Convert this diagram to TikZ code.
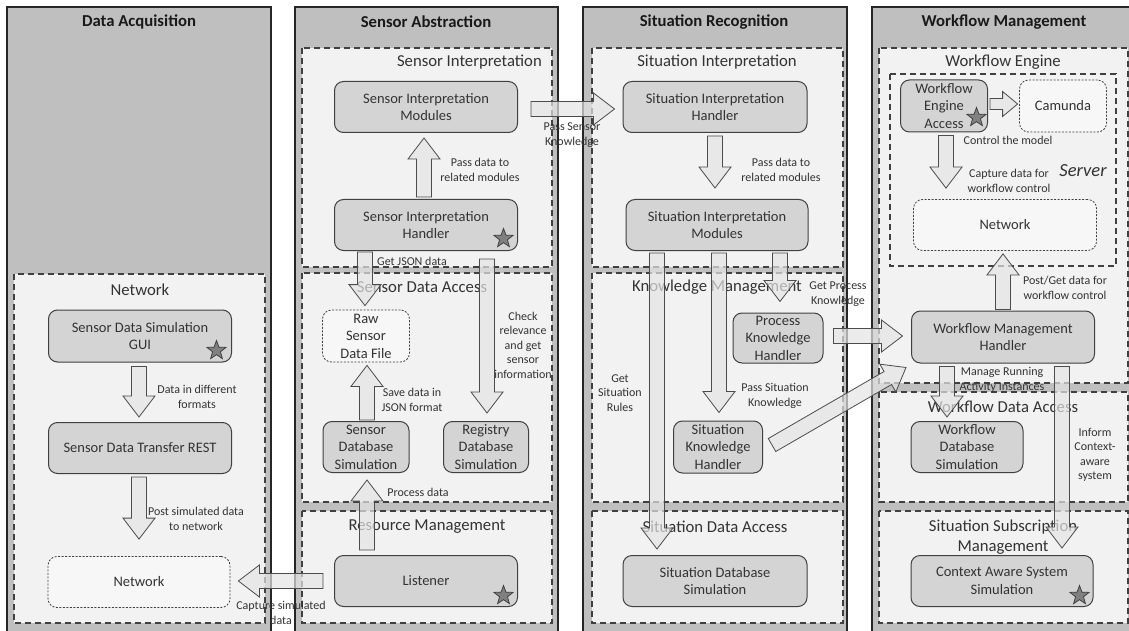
\documentclass[tikz,border=0pt]{standalone}
\usepackage{fontspec}
\setmainfont{Carlito}
\usetikzlibrary{calc,shapes.geometric}

\definecolor{panelgray}{HTML}{BFBFBF}
\definecolor{subfill}{HTML}{F2F2F2}
\definecolor{boxfill}{HTML}{D4D4D4}
\definecolor{dfill}{HTML}{F7F7F7}
\definecolor{arrowfill}{HTML}{E4E4E4}
\definecolor{ink}{HTML}{333333}

% block arrow from #2 (base) to #3 (tip)
\def\bashaft{7.5pt}
\def\bawing{16pt}
\def\bahead{21pt}
\newcommand\blockarrow[3][]{%
  \begin{scope}[#1]
  \coordinate (ba-s) at (#2);
  \coordinate (ba-e) at (#3);
  \coordinate (ba-h) at ($(ba-e)!\bahead!(ba-s)$);
  \filldraw[blockarrow]
    ($(ba-s)!\bashaft!90:(ba-e)$) -- ($(ba-h)!\bashaft!90:(ba-e)$) --
    ($(ba-h)!\bawing!90:(ba-e)$) -- (ba-e) --
    ($(ba-h)!\bawing!-90:(ba-e)$) -- ($(ba-h)!\bashaft!-90:(ba-e)$) --
    ($(ba-s)!\bashaft!-90:(ba-e)$) -- cycle;
  \end{scope}}

\begin{document}
\begin{tikzpicture}[x=1pt,y=-1pt,
  panel/.style={draw=black!85, line width=1.6pt, fill=panelgray},
  subpanel/.style={draw=black!75, line width=1.4pt, dash pattern=on 6pt off 4pt, fill=subfill},
  server/.style={draw=black!75, line width=1.4pt, dash pattern=on 6pt off 4pt},
  box/.style={draw=black!75, line width=1pt, rounded corners=9pt, fill=boxfill, align=center,
    font=\fontsize{14.5}{17.5}\selectfont, text=ink, inner sep=0pt},
  dbox/.style={box, line width=0.8pt, dash pattern=on 2pt off 1.5pt, fill=dfill},
  wide/.style={minimum width=183pt, minimum height=51pt},
  narrow/.style={minimum width=87pt, minimum height=52pt},
  ptitle/.style={font=\bfseries\fontsize{16.7}{19}\selectfont, text=black!90, inner sep=0pt},
  stitle/.style={font=\fontsize{16.7}{20}\selectfont, text=ink, inner sep=0pt, align=center},
  lbl/.style={font=\fontsize{12}{14.5}\selectfont, align=center, text=ink, inner sep=0pt},
  blockarrow/.style={draw=black!70, line width=0.8pt, fill=arrowfill, fill opacity=0.7, line join=miter},
  starmark/.style={star, star points=5, star point ratio=2.4, minimum size=20pt, inner sep=0pt,
    fill=black!50, draw=black!75, line width=0.8pt}]

\useasboundingbox (0,0) rectangle (1129,631);
\clip (0,0) rectangle (1129,631);
\fill[white] (0,0) rectangle (1129,631);

% ---------- four layers ----------
\draw[panel] (7,7) rectangle (271,640);
\draw[panel] (295,7) rectangle (558,640);
\draw[panel] (583,7) rectangle (847,640);
\draw[panel] (872,7) rectangle (1140,640);
\node[ptitle] (tDA) at (139,22) {Data Acquisition};
\node[ptitle] (tSA) at (426,22) {Sensor Abstraction};
\node[ptitle] (tSR) at (714,22) {Situation Recognition};
\node[ptitle] (tWF) at (1004,22) {Workflow Management};

% ---------- components ----------
\draw[subpanel] (14,274) rectangle (265,623);
\node[stitle] (sNet) at (140,290) {Network};

\draw[subpanel] (302,48) rectangle (552,267);
\node[stitle, anchor=east] (sSI) at (542,62) {Sensor Interpretation};
\draw[subpanel] (302,273) rectangle (552,502);
\node[stitle] (sSDA) at (422,287) {Sensor Data Access};
\draw[subpanel] (302,511) rectangle (552,623);
\node[stitle] (sRM) at (427,527) {Resource Management};

\draw[subpanel] (592,48) rectangle (843,267);
\node[stitle] (sSitI) at (717,62) {Situation Interpretation};
\draw[subpanel] (592,273) rectangle (843,502);
\node[stitle] (sKM) at (717,287) {Knowledge Management};
\draw[subpanel] (592,511) rectangle (843,623);
\node[stitle] (sSDAc) at (715,527) {Situation Data Access};

\draw[subpanel] (879,48) rectangle (1128,383);
\node[stitle] (sWE) at (1003,62) {Workflow Engine};
\draw[server] (890,74) rectangle (1116,266);
\node[stitle, font=\itshape\fontsize{18.5}{20}\selectfont] (sSrv) at (1083,171) {Server};
\draw[subpanel] (879,392) rectangle (1128,502);
\node[stitle] (sWDA) at (1003,407) {Workflow Data Access};
\draw[subpanel] (879,511) rectangle (1128,623);
\node[stitle] (sSSM) at (1003,537) {Situation Subscription\\Management};

% ---------- Data Acquisition ----------
\node[box, wide, minimum height=52pt] (gui) at (140,336) {Sensor Data Simulation\\GUI};
\node[box, wide] (rest) at (140,448) {Sensor Data Transfer REST};
\node[dbox, wide, minimum width=182pt] (netDA) at (139,582) {Network};

% ---------- Sensor Abstraction ----------
\node[box, wide] (sim) at (426,107) {Sensor Interpretation\\Modules};
\node[box, wide] (sih) at (426,225) {Sensor Interpretation\\Handler};
\node[dbox, narrow] (raw) at (366,336) {Raw\\Sensor\\Data File};
\node[box, narrow, minimum width=86pt, minimum height=51pt] (sdb) at (366,447) {Sensor\\Database\\Simulation};
\node[box, narrow, minimum width=85pt, minimum height=51pt] (rdb) at (486,447) {Registry\\Database\\Simulation};
\node[box, wide] (lis) at (426,581) {Listener};

% ---------- Situation Recognition ----------
\node[box, wide, minimum width=184pt] (sith) at (715,107) {Situation Interpretation\\Handler};
\node[box, wide, minimum width=182pt] (sitm) at (717,225) {Situation Interpretation\\Modules};
\node[box, narrow, minimum width=90pt, minimum height=50pt] (pkh) at (778,338) {Process\\Knowledge\\Handler};
\node[box, narrow, minimum width=89pt] (skh) at (718,447) {Situation\\Knowledge\\Handler};
\node[box, wide, minimum width=184pt] (sdbs) at (715,581) {Situation Database\\Simulation};

% ---------- Workflow Management ----------
\node[box, narrow] (wea) at (944,106) {Workflow\\Engine\\Access};
\node[dbox, narrow] (cam) at (1063,106) {Camunda};
\node[dbox, wide] (netWF) at (1005,225) {Network};
\node[box, wide, minimum height=52pt] (wmh) at (1003,337) {Workflow Management\\Handler};
\node[box, narrow, minimum width=112pt, minimum height=51pt] (wdb) at (967,447) {Workflow\\Database\\Simulation};
\node[box, wide, minimum width=182pt] (cass) at (1002,581) {Context Aware System\\Simulation};

% ---------- stars ----------
\node[starmark] (starGui) at ($(gui.south east)+(-15.5,-12)$) {};
\node[starmark] (starSih) at ($(sih.south east)+(-14.5,-12.5)$) {};
\node[starmark] (starLis) at ($(lis.south east)+(-14.5,-11.5)$) {};
\node[starmark] (starWea) at ($(wea.south east)+(-11.5,-15)$) {};
\node[starmark] (starCass) at ($(cass.south east)+(-14,-11.5)$) {};

% ---------- block arrows ----------
\blockarrow{$(gui.south)+(-1,4)$}{$(rest.north)+(-1,-5)$}
\blockarrow{$(rest.south)+(-1,3)$}{$(netDA.north)+(0,-17)$}

\blockarrow{$(sih.north)+(-2,-2)$}{$(sim.south)+(-2,5)$}
\blockarrow{$(sih.south)+(-61,1)$}{$(raw.north)+(-1,-4)$}
\blockarrow{$(sih.south)+(61,8)$}{$(rdb.north)+(1,-8)$}
\blockarrow{$(sdb.north)+(1,-1)$}{$(raw.south)+(1,3)$}
\blockarrow{$(lis.north)+(-59,-5)$}{$(sdb.south)+(1,7)$}
\blockarrow{$(lis.west)+(-11,0)$}{$(netDA.east)+(8,-1)$}

\blockarrow{$(sim.east)+(13,2)$}{$(sith.west)+(-8,2)$}
\blockarrow{$(sith.south)+(0,3)$}{$(sitm.north)+(-2,-11)$}
\blockarrow{$(sitm.south)+(-60,2)$}{$(sdbs.north)+(-58,-6)$}
\blockarrow{$(sitm.south)+(2,2)$}{$(skh.north)+(1,-8)$}
\blockarrow{$(sitm.south)+(63,2)$}{$(pkh.north)+(2,-11)$}
\blockarrow{$(pkh.east)+(10,-2)$}{$(wmh.west)+(-8.5,-1)$}
\blockarrow{$(skh.east)+(9,-2)$}{$(wmh.south west)+(-5,4)$}

\begin{scope}
\def\bashaft{5.5pt}\def\bawing{12.5pt}\def\bahead{15pt}
\blockarrow{$(wea.east)+(2,-2)$}{$(cam.west)+(-1.5,-2)$}
\end{scope}
\blockarrow{$(wea.south)+(2,3)$}{$(netWF.north)+(-59,-11)$}
\blockarrow{$(wmh.north)+(0,-1)$}{$(netWF.south)+(-2,3)$}
\blockarrow{$(wmh.south)+(-56,3)$}{$(wdb.north)+(-20,-4)$}
\blockarrow{$(wmh.south)+(59,3)$}{$(cass.north)+(60,-7)$}

% ---------- connector labels ----------
\node[lbl] (lDiff) at (197,397) {Data in different\\formats};
\node[lbl] (lPost) at (196,519) {Post simulated data\\to network};
\node[lbl] (lCap) at (281,613) {Capture simulated\\data};
\node[lbl] (lPassSA) at (480,170) {Pass data to\\related modules};
\node[lbl] (lJson) at (412,261) {Get JSON data};
\node[lbl] (lCheck) at (523,345) {Check\\relevance\\and get\\sensor\\information};
\node[lbl] (lSave) at (412,400) {Save data in\\JSON format};
\node[lbl] (lProc) at (418,492) {Process data};
\node[lbl] (lPSK) at (572,135) {Pass Sensor\\Knowledge};
\node[lbl] (lPassSR) at (781,170) {Pass data to\\related modules};
\node[lbl] (lRules) at (620,393) {Get\\Situation\\Rules};
\node[lbl] (lPSitK) at (775,396) {Pass Situation\\Knowledge};
\node[lbl] (lGPK) at (838,294) {Get Process\\Knowledge};
\node[lbl] (lCtrl) at (1008,140) {Control the model};
\node[lbl] (lCapWF) at (1009,181) {Capture data for\\workflow control};
\node[lbl] (lPG) at (1065,288) {Post/Get data for\\workflow control};
\node[lbl] (lMRA) at (1002,380) {Manage Running\\Activity Instances};
\node[lbl] (lInf) at (1095,455) {Inform\\Context-\\aware\\system};

\end{tikzpicture}
\end{document}
